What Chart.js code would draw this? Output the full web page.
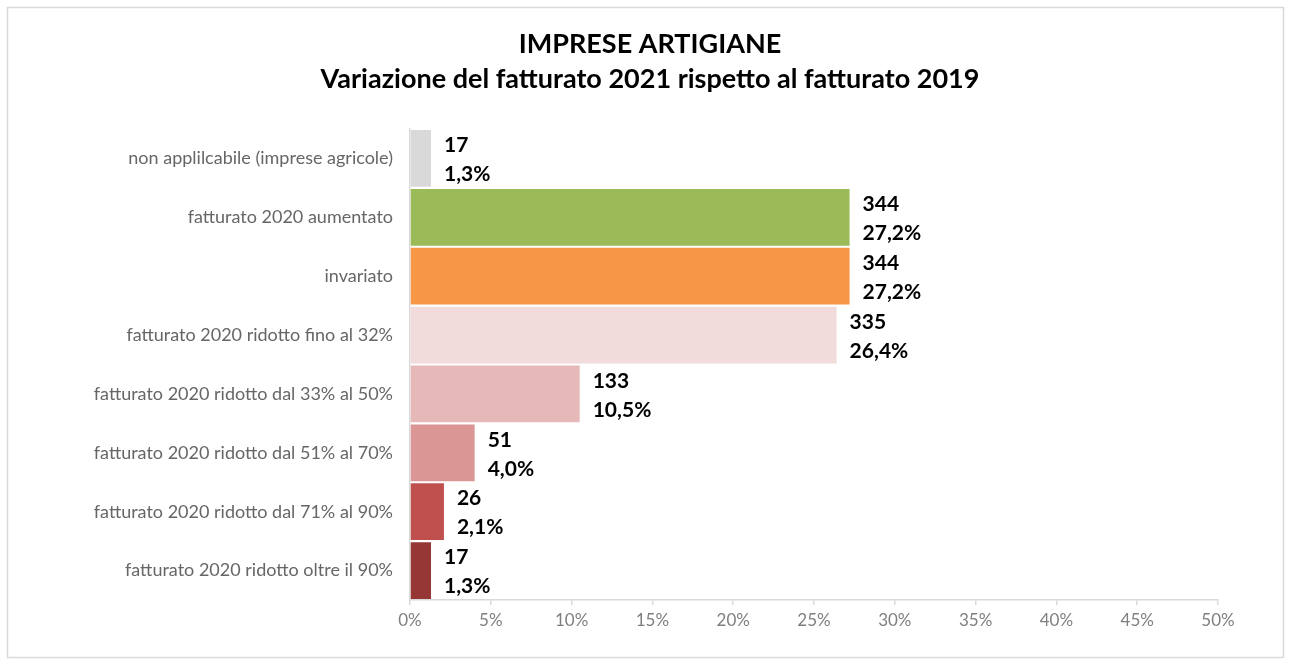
<!DOCTYPE html>
<html>
<head>
<meta charset="utf-8">
<script src="https://cdn.jsdelivr.net/npm/chart.js@4.4.0/dist/chart.umd.min.js"></script>
<style>
  body { margin: 0; background: #fff; }
  canvas { display: block; }
</style>
</head>
<body>
<canvas id="chart" width="1290" height="664"></canvas>
<script>
// data
var categories = [
  "non applilcabile (imprese agricole)",
  "fatturato 2020 aumentato",
  "invariato",
  "fatturato 2020 ridotto fino al 32%",
  "fatturato 2020 ridotto dal 33% al 50%",
  "fatturato 2020 ridotto dal 51% al 70%",
  "fatturato 2020 ridotto dal 71% al 90%",
  "fatturato 2020 ridotto oltre il 90%"
];
var counts = [17, 344, 344, 335, 133, 51, 26, 17];
var percents = [1.3, 27.2, 27.2, 26.4, 10.5, 4.0, 2.1, 1.3];
var barColors = ["#D9D9D9", "#9BBB59", "#F79646", "#F2DCDB", "#E6B9B8", "#D99694", "#C0504D", "#953735"];
var titleLines = ["IMPRESE ARTIGIANE", "Variazione del fatturato 2021 rispetto al fatturato 2019"];

var FONT = "Lato, 'Open Sans', sans-serif";

// frame + title
var framePlugin = {
  id: 'frame',
  beforeDraw: function(chart) {
    var ctx = chart.ctx;
    ctx.save();
    ctx.fillStyle = '#fff';
    ctx.fillRect(0, 0, chart.width, chart.height);
    ctx.strokeStyle = '#D9D9D9';
    ctx.lineWidth = 1.5;
    ctx.strokeRect(7.5, 7.5, 1276, 650);
    ctx.fillStyle = '#000';
    ctx.font = 'bold 27px ' + FONT;
    ctx.textAlign = 'center';
    ctx.textBaseline = 'middle';
    ctx.fillText(titleLines[0], 650, 44);
    ctx.fillText(titleLines[1], 650, 79);
    ctx.restore();
  }
};

// value labels next to each bar
var valueLabels = {
  id: 'valueLabels',
  afterDatasetsDraw: function(chart) {
    var ctx = chart.ctx;
    var meta = chart.getDatasetMeta(0);
    ctx.save();
    ctx.fillStyle = '#000';
    ctx.font = 'bold 21px ' + FONT;
    ctx.textAlign = 'left';
    ctx.textBaseline = 'middle';
    meta.data.forEach(function(bar, i) {
      var x = bar.x + 13;
      ctx.fillText(String(counts[i]), x, bar.y - 13);
      ctx.fillText(percents[i].toFixed(1).replace('.', ',') + '%', x, bar.y + 16);
    });
    ctx.restore();
  }
};

new Chart(document.getElementById('chart'), {
  type: 'bar',
  data: {
    labels: categories,
    datasets: [{
      data: percents,
      backgroundColor: barColors,
      barPercentage: 0.965,
      categoryPercentage: 1
    }]
  },
  options: {
    indexAxis: 'y',
    responsive: false,
    animation: false,
    layout: { padding: { top: 129, right: 72, bottom: 0, left: 0 } },
    plugins: { legend: { display: false }, tooltip: { enabled: false }, title: { display: false } },
    scales: {
      x: {
        min: 0,
        max: 50,
        ticks: {
          stepSize: 5,
          color: '#7F7F7F',
          font: { family: FONT, size: 17 },
          padding: 5,
          callback: function(v) { return v + '%'; }
        },
        grid: { drawOnChartArea: false, drawTicks: true, tickLength: 5, color: '#D9D9D9', lineWidth: 1.5 },
        border: { color: '#D9D9D9', width: 1.5 },
        afterFit: function(scale) { scale.height = 64; }
      },
      y: {
        ticks: {
          color: '#666666',
          font: { family: FONT, size: 18 },
          padding: 17
        },
        grid: { display: false, drawTicks: false },
        border: { color: '#D9D9D9', width: 1.5 },
        afterFit: function(scale) { scale.width = 410; }
      }
    }
  },
  plugins: [framePlugin, valueLabels]
});
</script>
</body>
</html>
